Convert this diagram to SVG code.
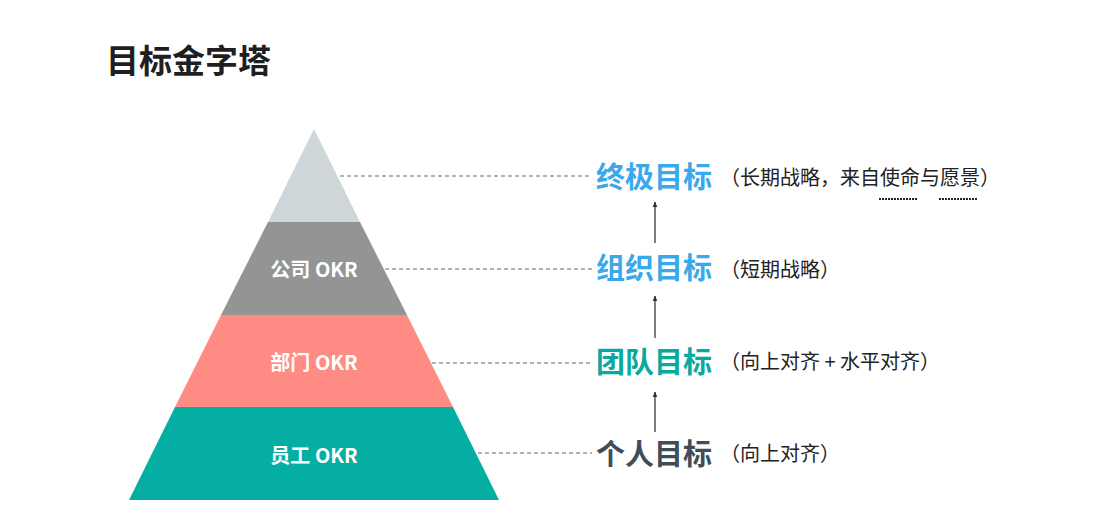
<svg xmlns="http://www.w3.org/2000/svg" width="1117" height="529" viewBox="0 0 1117 529">
<defs>
<style>
.cjk{font-family:"Noto Sans CJK SC","Noto Sans",sans-serif;}
.title{font-size:33px;font-weight:bold;fill:#1f1f1f;}
.lyr{font-size:20px;font-weight:bold;fill:#ffffff;text-anchor:middle;}
.goal{font-size:29px;font-weight:bold;}
.note{font-size:20px;fill:#222;}
.dash{stroke:#9a9a9a;stroke-width:1.5;stroke-dasharray:4 3;fill:none;}
.arr{stroke:#4b5560;stroke-width:1.5;fill:none;marker-end:url(#ah);}
.ul{stroke:#222;stroke-width:2;stroke-dasharray:2 1;}
</style>
<marker id="ah" viewBox="0 0 10 10" refX="9" refY="5" markerWidth="6" markerHeight="6" orient="auto" markerUnits="userSpaceOnUse">
<path d="M0,1 L10,5 L0,9 z" fill="#2a2f35"/>
</marker>
</defs>
<rect width="1117" height="529" fill="#ffffff"/>
<text class="cjk title" x="106" y="73">目标金字塔</text>

<g id="layer-top">
<polygon points="314,129 360,222 268,222" fill="#cfd6d9"/>
</g>
<g id="layer-company">
<polygon points="268,222 360,222 407,315 221,315" fill="#939594"/>
<text class="cjk lyr" x="314" y="277">公司 OKR</text>
</g>
<g id="layer-dept">
<polygon points="221,315 407,315 453,407 175,407" fill="#ff8c84"/>
<text class="cjk lyr" x="314" y="370">部门 OKR</text>
</g>
<g id="layer-staff">
<polygon points="175,407 453,407 499,500 129,500" fill="#05aea2"/>
<text class="cjk lyr" x="314" y="463">员工 OKR</text>
</g>

<g id="connectors">
<line class="dash" x1="340" y1="176" x2="592" y2="176"/>
<line class="dash" x1="385" y1="269" x2="592" y2="269"/>
<line class="dash" x1="432" y1="363" x2="592" y2="363"/>
<line class="dash" x1="478" y1="453" x2="592" y2="453"/>
<line class="arr" x1="655" y1="243" x2="655" y2="202"/>
<line class="arr" x1="655" y1="338" x2="655" y2="296"/>
<line class="arr" x1="655" y1="432" x2="655" y2="392"/>
</g>

<g id="goal-ultimate">
<text class="cjk goal" x="596" y="188" fill="#3aa8ea">终极目标</text>
<text class="cjk note" x="720" y="185">（长期战略，来自使命与愿景）</text>
<line class="ul" x1="879" y1="199" x2="918" y2="199"/>
<line class="ul" x1="939" y1="199" x2="978" y2="199"/>
</g>
<g id="goal-org">
<text class="cjk goal" x="596" y="279" fill="#3aa8ea">组织目标</text>
<text class="cjk note" x="720" y="277">（短期战略）</text>
</g>
<g id="goal-team">
<text class="cjk goal" x="596" y="373" fill="#0aa9a0">团队目标</text>
<text class="cjk note" x="720" y="369">（向上对齐 + 水平对齐）</text>
</g>
<g id="goal-personal">
<text class="cjk goal" x="596" y="465" fill="#3e4d59">个人目标</text>
<text class="cjk note" x="720" y="461">（向上对齐）</text>
</g>
</svg>
